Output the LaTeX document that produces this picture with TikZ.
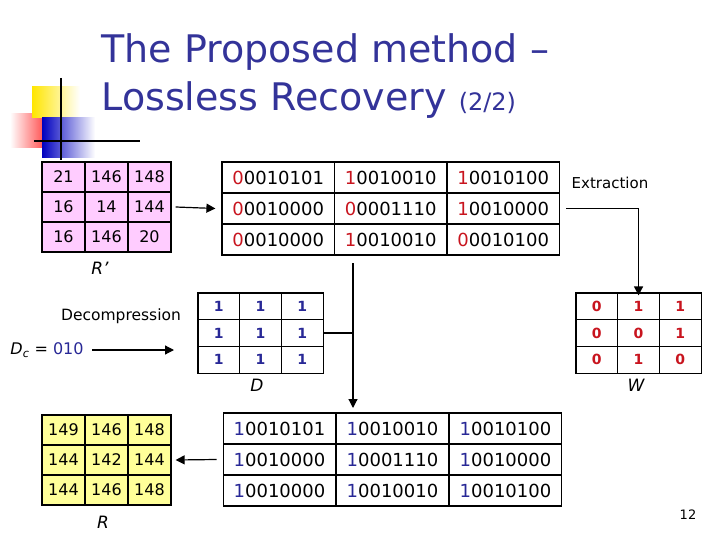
\documentclass[tikz,border=0pt]{standalone}
\usepackage{fontspec}
\setmainfont{DejaVu Sans}
\usetikzlibrary{arrows.meta}
\definecolor{titleblue}{RGB}{51,51,153}
\definecolor{bitred}{RGB}{200,20,30}
\definecolor{bitblue}{RGB}{40,40,150}
\definecolor{pinkcell}{RGB}{255,204,255}
\definecolor{yelcell}{RGB}{255,255,153}
\newcommand{\rb}[2]{\textcolor{bitred}{#1}#2}
\newcommand{\bb}[2]{\textcolor{bitblue}{#1}#2}
\begin{document}
\begin{tikzpicture}[x=1pt, y=-1pt,
    cell/.style={draw, line width=1.2pt, inner sep=0pt, font=\fontsize{16}{16}\selectfont},
    bcell/.style={draw, line width=1.2pt, inner sep=0pt, minimum width=112.5pt, minimum height=31pt, font=\fontsize{18}{18}\selectfont},
    scell/.style={draw, line width=1.2pt, inner sep=0pt, minimum width=41.7pt, minimum height=26.7pt, font=\fontsize{14}{14}\selectfont\bfseries},
    lab/.style={font=\fontsize{17}{17}\selectfont\itshape},
    conn/.style={line width=1.2pt, -{Triangle[length=9pt, width=9pt]}}]
  \useasboundingbox (0,0) rectangle (720,540);
  % logo
  \shade[left color=white, right color=red!90] (10,114) rectangle (55,148);
  \shade[left color=yellow!80!orange, right color=white] (32,87) rectangle (80,118);
  \shade[left color=blue!75!black, right color=white] (42,118) rectangle (95,158);
  \draw[very thick] (61,78) -- (61,160);
  \draw[very thick] (34,141) -- (140,141);
  % title
  \node[anchor=west, text=titleblue, font=\fontsize{38}{38}\selectfont] (title1) at (98,52) {The Proposed method –};
  \node[anchor=west, text=titleblue, font=\fontsize{38}{38}\selectfont] (title2) at (98,100) {Lossless Recovery \fontsize{24}{24}\selectfont (2/2)};
  % R'
  \foreach \row [count=\r] in {{21,146,148},{16,14,144},{16,146,20}}
    \foreach \v [count=\c] in \row
      \node[cell, fill=pinkcell, minimum width=43pt, minimum height=30pt] (rp-\r-\c) at (20.5+43*\c, 147+30*\r) {\v};
  \node[lab] (rplab) at (100,268) {R’};
  % top binary grid
  \foreach \row [count=\r] in {{\rb{0}{0010101},\rb{1}{0010010},\rb{1}{0010100}},{\rb{0}{0010000},\rb{0}{0001110},\rb{1}{0010000}},{\rb{0}{0010000},\rb{1}{0010010},\rb{0}{0010100}}}
    \foreach \v [count=\c] in \row
      \node[bcell] (tb-\r-\c) at (165.75+112.5*\c, 146.5+31*\r) {\v};
  \node[font=\fontsize{15}{15}\selectfont] (extr) at (610,183) {Extraction};
  % D and W
  \foreach \row [count=\r] in {{1,1,1},{1,1,1},{1,1,1}}
    \foreach \v [count=\c] in \row
      \node[scell, text=bitblue] (d-\r-\c) at (177.15+41.7*\c, 279.65+26.7*\r) {\v};
  \foreach \row [count=\r] in {{0,1,1},{0,0,1},{0,1,0}}
    \foreach \v [count=\c] in \row
      \node[scell, text=bitred] (w-\r-\c) at (555.15+41.7*\c, 279.65+26.7*\r) {\v};
  \node[lab] (dlab) at (257,385) {D};
  \node[lab] (wlab) at (636,385) {W};
  \node[font=\fontsize{15.5}{15.5}\selectfont] (decomp) at (121,316) {Decompression};
  \node[font=\fontsize{16}{16}\selectfont] (dc) at (47,350) {\textit{D}\textsubscript{\textit{c}} = \textcolor{bitblue}{010}};
  \coordinate (dcend) at (92,350);
  % bottom binary grid
  \foreach \row [count=\r] in {{\bb{1}{0010101},\bb{1}{0010010},\bb{1}{0010100}},{\bb{1}{0010000},\bb{1}{0001110},\bb{1}{0010000}},{\bb{1}{0010000},\bb{1}{0010010},\bb{1}{0010100}}}
    \foreach \v [count=\c] in \row
      \node[bcell] (bt-\r-\c) at (166.5+113*\c, 397.5+31*\r) {\v};
  % R
  \foreach \row [count=\r] in {{149,146,148},{144,142,144},{144,146,148}}
    \foreach \v [count=\c] in \row
      \node[cell, fill=yelcell, minimum width=43pt, minimum height=30pt] (r-\r-\c) at (20.5+43*\c, 400+30*\r) {\v};
  \node[lab] (rlab) at (103,522) {R};
  \node[font=\fontsize{13}{13}\selectfont] (pnum) at (688,515) {12};
  % connectors
  \coordinate (split) at (353,263);
  \coordinate (join) at (353,408);
  \draw[conn] ([xshift=4pt]rp-2-3.east) -- ([xshift=-6pt]tb-2-1.west);
  \draw[conn] (dcend) -- (174,350);
  \draw[line width=1.2pt] (d-2-3.east) -- (d-2-3.east -| split);
  \draw[conn] (split) -- (join);
  \draw[conn] ([xshift=6pt]tb-2-3.east) -| ([yshift=-3pt]w-1-2.north);
  \draw[conn] ([xshift=-6pt]bt-2-1.west) -- ([xshift=4pt]r-2-3.east);
\end{tikzpicture}
\end{document}
